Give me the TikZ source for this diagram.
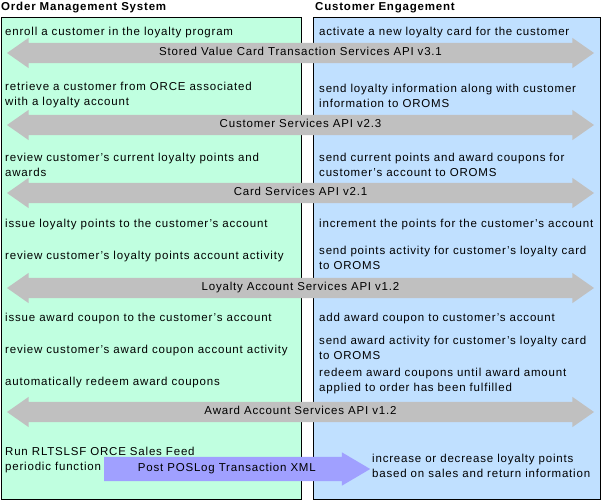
\documentclass[tikz,border=0pt]{standalone}
\usepackage{fontspec}
\setmainfont[LetterSpace=7]{Liberation Sans}
\usetikzlibrary{shapes.arrows}
\definecolor{omsgreen}{RGB}{192,255,224}
\definecolor{ceblue}{RGB}{192,224,255}
\definecolor{apigray}{RGB}{192,192,192}
\definecolor{postblue}{RGB}{160,160,255}
\tikzset{
  lane/.style={draw=black, line width=0.8pt},
  lanetitle/.style={anchor=west, inner sep=0pt, font=\bfseries\fontsize{11.5}{13}\selectfont},
  task/.style={anchor=west, align=left, inner sep=0pt, yshift=-1.5pt, font=\fontsize{11.5}{15}\selectfont},
  apiarrow/.style={double arrow, fill=apigray, minimum height=587pt,
    double arrow head extend=5pt, double arrow tip angle=70,
    text height=8pt, text depth=2.5pt, inner ysep=4.75pt, inner xsep=0pt,
    font=\fontsize{11.5}{13}\selectfont},
  postarrow/.style={single arrow, fill=postblue, minimum height=266pt,
    single arrow head extend=4.5pt, single arrow tip angle=61,
    text height=8pt, text depth=2.5pt, inner ysep=6.75pt, inner xsep=0pt,
    font=\fontsize{11.5}{13}\selectfont},
}
\begin{document}
\begin{tikzpicture}[x=1pt,y=-1pt]
\useasboundingbox (0,0) rectangle (601,500);
% swimlanes
\filldraw[lane,fill=omsgreen] (1,17) rectangle (301,499);
\filldraw[lane,fill=ceblue] (313,17) rectangle (600,499);
\node[lanetitle] (omstitle) at (1,8) {Order Management System};
\node[lanetitle] (cetitle) at (315,8) {Customer Engagement};
% Order Management System
\node[task] (enroll) at (5,31) {enroll a customer in the loyalty program};
\node[task] (retrieve) at (5,94) {retrieve a customer from ORCE associated\\with a loyalty account};
\node[task] (reviewpts) at (5,163) {review customer's current loyalty points and\\awards};
\node[task] (issuepts) at (5,223) {issue loyalty points to the customer's account};
\node[task] (reviewact) at (5,255) {review customer's loyalty points account activity};
\node[task] (issueaward) at (5,317) {issue award coupon to the customer's account};
\node[task] (reviewaward) at (5,349) {review customer's award coupon account activity};
\node[task] (redeemauto) at (5,381) {automatically redeem award coupons};
\node[task] (salesfeed) at (5,459) {Run RLTSLSF ORCE Sales Feed\\periodic function};
% Customer Engagement
\node[task] (activate) at (319,31) {activate a new loyalty card for the customer};
\node[task] (sendinfo) at (319,94) {send loyalty information along with customer\\information to OROMS};
\node[task] (sendpts) at (319,163) {send current points and award coupons for\\customer's account to OROMS};
\node[task] (increment) at (319,223) {increment the points for the customer's account};
\node[task] (sendact) at (319,256) {send points activity for customer's loyalty card\\to OROMS};
\node[task] (addaward) at (319,317) {add award coupon to customer's account};
\node[task] (sendaward) at (319,346.5) {send award activity for customer's loyalty card\\to OROMS};
\node[task] (redeem) at (319,380) {redeem award coupons until award amount\\applied to order has been fulfilled};
\node[task] (adjust) at (372,464) {increase or decrease loyalty points\\based on sales and return information};
% APIs
\node[apiarrow] (svcapi) at (300.5,53) {Stored Value Card Transaction Services API v3.1};
\node[apiarrow] (custapi) at (300.5,125) {Customer Services API v2.3};
\node[apiarrow] (cardapi) at (300.5,193) {Card Services API v2.1};
\node[apiarrow] (loyaltyapi) at (300.5,288) {Loyalty Account Services API v1.2};
\node[apiarrow] (awardapi) at (300.5,412) {Award Account Services API v1.2};
% sales feed
\node[postarrow,anchor=tail] (poslog) at (104,469) {Post POSLog Transaction XML};
\end{tikzpicture}
\end{document}
